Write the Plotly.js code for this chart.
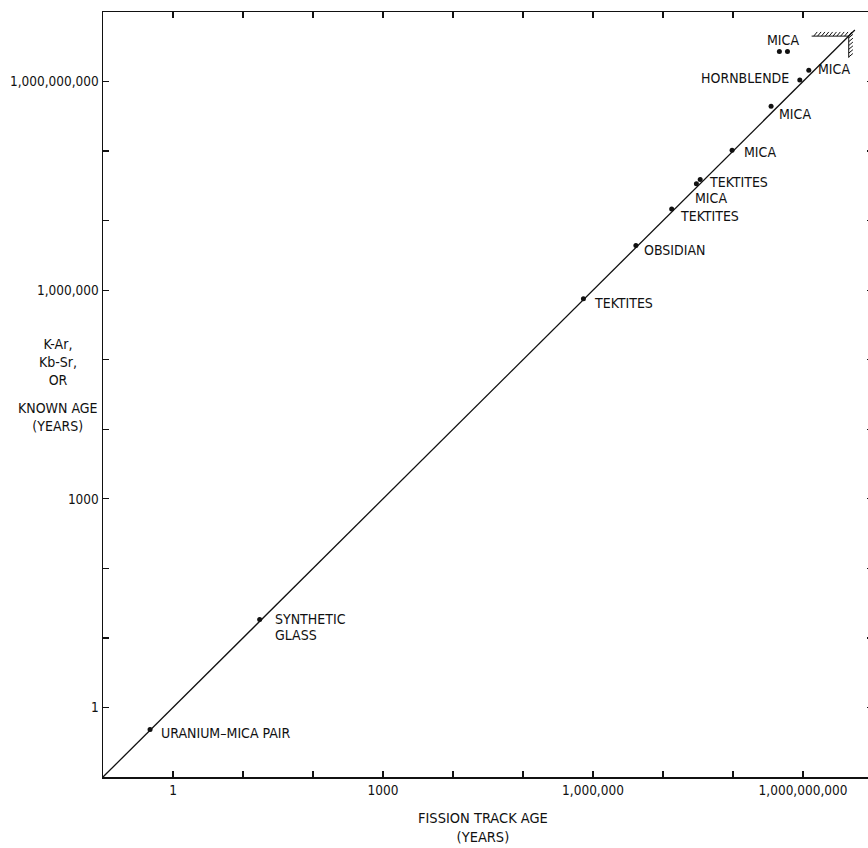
<!DOCTYPE html>
<html>
<head>
<meta charset="utf-8">
<script src="https://cdn.plot.ly/plotly-3.0.1.min.js"></script>
<style>
html, body { margin: 0; padding: 0; overflow: hidden; background: #fff; }
#chart { width: 880px; height: 848px; }
</style>
</head>
<body>
<div id="chart"></div>
<script>
// ---- data ----
const fissionTrackAge = [0.47, 17.3, 7.3e5, 4.1e6, 1.33e7, 3.0e7, 3.4e7, 9.7e7, 3.5e8, 9.0e8, 1.21e9, 4.6e8, 6.0e8];
const knownAge        = [0.48, 18.4, 7.5e5, 4.4e6, 1.47e7, 3.4e7, 3.9e7, 1.03e8, 4.4e8, 1.05e9, 1.45e9, 2.7e9, 2.7e9];
const sampleLabels    = ["URANIUM–MICA PAIR", "SYNTHETIC\nGLASS", "TEKTITES", "OBSIDIAN", "TEKTITES", "MICA",
                         "TEKTITES", "MICA", "MICA", "HORNBLENDE", "MICA", "MICA", ""];
const equalityLine    = [0.1, 5.5e9];
const earthAge        = 4.5e9;
const decadeTicks     = [0.1, 1, 10, 100, 1e3, 1e4, 1e5, 1e6, 1e7, 1e8, 1e9, 1e10];
const decadeTickText  = ["", "1", "", "", "1000", "", "", "1,000,000", "", "", "1,000,000,000", ""];
const xTitle = "FISSION TRACK AGE<br>(YEARS)";
const yTitleTop = "K-Ar,<br>Kb-Sr,<br>OR";
const yTitleBottom = "KNOWN AGE<br>(YEARS)";

// ---- label placement (style, not data) ----
const labelPlacement = [
  {xa: "left", dx: 9, dy: -3},
  {xa: "left", dx: 13, dy: 0},
  {xa: "left", dx: 9, dy: -4},
  {xa: "left", dx: 6, dy: -5},
  {xa: "left", dx: 6, dy: -7},
  {xa: "left", dx: -3, dy: -14},
  {xa: "left", dx: 7, dy: -2},
  {xa: "left", dx: 10, dy: -2},
  {xa: "left", dx: 6, dy: -8},
  {xa: "right", dx: -9, dy: 2},
  {xa: "left", dx: 7, dy: 1},
  {xa: "center", dx: 4, dy: 12},
  {xa: "left", dx: 0, dy: 0}
];

const FONT = "'DejaVu Sans Condensed', 'Liberation Sans', Arial, sans-serif";
const INK = "#111";

// hatch marker for age of the earth (decoration)
const hx = [], hy = [];
const L = Math.log10(earthAge);
hx.push(Math.pow(10, L - 0.53), earthAge, earthAge, null);
hy.push(earthAge, earthAge, Math.pow(10, L - 0.31), null);
for (let t = L - 0.50; t <= L + 0.001; t += 0.055) {
  hx.push(Math.pow(10, t), Math.pow(10, t + 0.05), null);
  hy.push(earthAge, Math.pow(10, L + 0.06), null);
}
for (let t = L - 0.30; t <= L - 0.02; t += 0.055) {
  hx.push(earthAge, Math.pow(10, L + 0.06), null);
  hy.push(Math.pow(10, t), Math.pow(10, t + 0.05), null);
}

const traces = [
  {x: equalityLine, y: equalityLine, mode: "lines", line: {color: INK, width: 1.3}, hoverinfo: "skip"},
  {x: hx, y: hy, mode: "lines", line: {color: INK, width: 1}, hoverinfo: "skip", connectgaps: false},
  {x: fissionTrackAge, y: knownAge, mode: "markers", marker: {color: INK, size: 5}}
];

const annotations = [];
sampleLabels.forEach((lab, i) => {
  if (!lab) return;
  const p = labelPlacement[i];
  lab.split("\n").forEach((line, j) => {
    annotations.push({
      xref: "x", yref: "y",
      x: Math.log10(fissionTrackAge[i]), y: Math.log10(knownAge[i]),
      text: line, showarrow: false, xanchor: p.xa, yanchor: "middle",
      xshift: p.dx, yshift: p.dy - j * 16,
      font: {family: FONT, size: 14, color: INK}
    });
  });
});
annotations.push({
  xref: "paper", yref: "paper", x: 0.5, y: 0, xanchor: "center", yanchor: "top",
  xshift: -5, yshift: -31, text: xTitle, showarrow: false,
  font: {family: FONT, size: 14.5, color: INK}
});
annotations.push({
  xref: "paper", yref: "paper", x: 0, y: 0.5419, xanchor: "center", yanchor: "middle",
  xshift: -45, text: yTitleTop, showarrow: false,
  font: {family: FONT, size: 14, color: INK}
});
annotations.push({
  xref: "paper", yref: "paper", x: 0, y: 0.471, xanchor: "center", yanchor: "middle",
  xshift: -45, text: yTitleBottom, showarrow: false,
  font: {family: FONT, size: 14, color: INK}
});

const axisCommon = {
  type: "log", range: [-1, 10],
  tickmode: "array", tickvals: decadeTicks, ticktext: decadeTickText,
  ticks: "inside", ticklen: 6, tickwidth: 1.3, tickcolor: INK,
  showline: true, linecolor: INK, linewidth: 1.5, mirror: "ticks",
  showgrid: false, zeroline: false,
  tickfont: {family: FONT, size: 13.5, color: INK}
};

const layout = {
  width: 880, height: 848,
  margin: {l: 103, r: 7, t: 12, b: 71},
  paper_bgcolor: "#fff", plot_bgcolor: "#fff",
  showlegend: false,
  xaxis: Object.assign({}, axisCommon),
  yaxis: Object.assign({}, axisCommon),
  annotations: annotations
};

Plotly.newPlot("chart", traces, layout, {staticPlot: true});
</script>
</body>
</html>
